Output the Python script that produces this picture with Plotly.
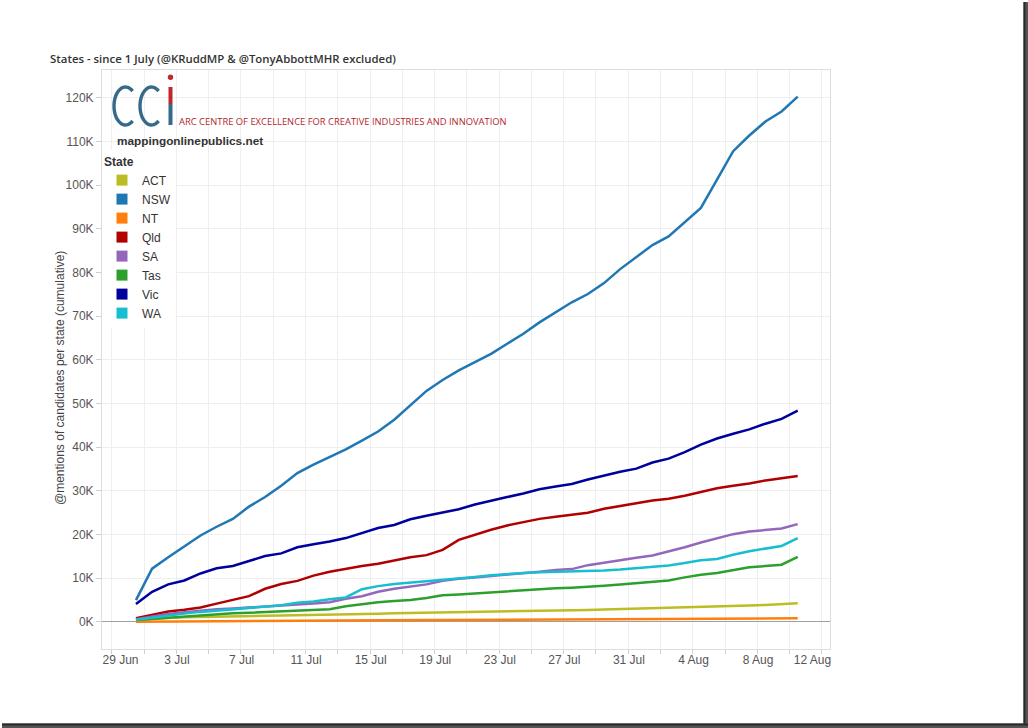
import plotly.graph_objects as go
import pandas as pd
import numpy as np

# ---------------- data (thousands of mentions, cumulative) ----------------
dates = pd.date_range("2013-07-01", periods=42, freq="D")

states = ["ACT", "NSW", "NT", "Qld", "SA", "Tas", "Vic", "WA"]

act = [0.4, 0.7, 0.9, 1.05, 1.15, 1.25, 1.3, 1.35, 1.4, 1.45, 1.5, 1.55, 1.6, 1.7,
       1.8, 1.9, 2.0, 2.05, 2.1, 2.15, 2.2, 2.25, 2.3, 2.35, 2.45, 2.55, 2.65, 2.7,
       2.75, 2.85, 2.95, 3.0, 3.05, 3.1, 3.2, 3.35, 3.5, 3.6, 3.75, 3.9, 4.05, 4.3]
nsw = [5.0, 12.2, 14.8, 17.2, 19.8, 21.8, 23.6, 26.4, 28.6, 31.2, 34.1, 36.0, 37.7, 39.5,
       41.5, 43.6, 46.3, 49.6, 52.9, 55.4, 57.6, 59.5, 61.4, 63.7, 66.0, 68.6, 71.0, 73.2,
       75.1, 77.6, 80.8, 83.6, 86.3, 88.3, 91.6, 94.8, 101.3, 107.8, 111.4, 114.6, 116.9, 120.3]
nt = [0.05, 0.08, 0.1, 0.12, 0.14, 0.16, 0.18, 0.2, 0.22, 0.24, 0.26, 0.28, 0.3, 0.32,
      0.34, 0.36, 0.38, 0.4, 0.42, 0.44, 0.46, 0.48, 0.5, 0.52, 0.54, 0.56, 0.58, 0.6,
      0.62, 0.63, 0.64, 0.66, 0.68, 0.7, 0.71, 0.72, 0.74, 0.76, 0.78, 0.8, 0.82, 0.85]
qld = [0.85, 1.7, 2.4, 2.8, 3.3, 4.2, 5.0, 5.9, 7.6, 8.7, 9.4, 10.6, 11.5, 12.2,
       12.8, 13.3, 14.0, 14.8, 15.3, 16.5, 18.8, 20.0, 21.1, 22.1, 22.9, 23.6, 24.1, 24.6,
       25.0, 25.9, 26.6, 27.2, 27.8, 28.2, 28.9, 29.7, 30.6, 31.2, 31.7, 32.4, 32.9, 33.4]
sa = [0.6, 1.2, 1.8, 2.2, 2.6, 2.9, 3.1, 3.3, 3.5, 3.7, 3.9, 4.2, 4.5, 5.3,
      5.9, 6.9, 7.6, 8.1, 8.6, 9.4, 9.9, 10.2, 10.5, 10.9, 11.2, 11.5, 11.9, 12.1,
      13.0, 13.6, 14.2, 14.7, 15.2, 16.1, 17.1, 18.2, 19.2, 20.1, 20.7, 21.1, 21.4, 22.4]
tas = [0.45, 0.7, 1.0, 1.2, 1.5, 1.8, 2.0, 2.1, 2.25, 2.4, 2.55, 2.7, 2.9, 3.6,
       4.1, 4.5, 4.8, 5.0, 5.5, 6.1, 6.3, 6.55, 6.8, 7.1, 7.35, 7.55, 7.7, 7.85,
       8.0, 8.3, 8.6, 8.85, 9.1, 9.5, 10.2, 10.8, 11.2, 11.9, 12.5, 12.8, 13.1, 14.9]
vic = [4.1, 6.9, 8.6, 9.5, 11.1, 12.3, 12.8, 13.9, 15.1, 15.7, 17.1, 17.8, 18.4, 19.2,
       20.3, 21.5, 22.2, 23.5, 24.3, 25.1, 25.8, 26.9, 27.8, 28.6, 29.4, 30.4, 31.0, 31.6,
       32.6, 33.5, 34.4, 35.1, 36.5, 37.4, 38.9, 40.6, 42.0, 43.1, 44.1, 45.4, 46.5, 48.4]
wa = [0.5, 1.0, 1.5, 1.9, 2.3, 2.6, 2.9, 3.2, 3.5, 3.8, 4.4, 4.7, 5.2, 5.6,
      7.5, 8.2, 8.7, 9.0, 9.3, 9.7, 10.0, 10.3, 10.7, 11.0, 11.2, 11.35, 11.45, 11.5,
      11.7, 11.8, 12.0, 12.3, 12.6, 12.9, 13.5, 14.1, 14.4, 15.4, 16.2, 16.8, 17.4, 19.2]

series = [act, nsw, nt, qld, sa, tas, vic, wa]
colors = ["#bcbd22", "#1f77b4", "#ff7f0e", "#b00000", "#9467bd", "#2ca02c", "#00009c", "#17becf"]

y_ticks = list(range(0, 121, 10))
x_tick_labels = ["29 Jun", "3 Jul", "7 Jul", "11 Jul", "15 Jul", "19 Jul", "23 Jul",
                 "27 Jul", "31 Jul", "4 Aug", "8 Aug", "12 Aug"]

# ---------------- layout helpers (pixel -> paper) ----------------
L, R, T, B = 102, 830, 70, 649
def px(x):
    return (x - L) / (R - L)
def py(y):
    return (B - y) / (B - T)

fig = go.Figure()
for name, vals, col in zip(states, series, colors):
    fig.add_trace(go.Scatter(x=dates, y=vals, mode="lines", name=name, legendgroup=name,
                             showlegend=False, line=dict(color=col, width=2.5),
                             hovertemplate=name + "<br>%{x|%d %b}: %{y:.1f}K<extra></extra>"))
for name, col in zip(states, colors):
    fig.add_trace(go.Scatter(x=[None], y=[None], mode="markers", name=name, legendgroup=name,
                             marker=dict(symbol="square", size=11, color=col)))

# x tick label positions (labels sit around midday of the day)
x_tickvals = [pd.Timestamp("2013-06-30 01:00")] + \
    [pd.Timestamp("2013-07-03 13:00") + pd.Timedelta(days=4 * i) for i in range(10)] + \
    [pd.Timestamp("2013-08-11 22:00")]
minor_vals = list(pd.date_range("2013-06-29 12:00", "2013-08-12 12:00", freq="2D"))

axis_font = dict(family="Liberation Sans, Arial", size=12, color="#555555")

fig.update_layout(
    width=1028, height=728,
    margin=dict(l=L, r=1028 - R, t=T, b=728 - B),
    paper_bgcolor="white", plot_bgcolor="white",
    title=dict(text="States - since 1 July (@KRuddMP & @TonyAbbottMHR excluded)",
               x=50 / 1028, xref="container", xanchor="left",
               y=1 - 59 / 728, yref="container", yanchor="middle",
               font=dict(family="Open Sans", size=11.4, color="#333333", weight=600)),
    showlegend=True,
    legend=dict(x=0.0, y=py(150), xanchor="left", yanchor="top",
                bgcolor="white", borderwidth=0,
                title=dict(text="<b>State</b>", font=dict(family="Liberation Sans, Arial", size=12, color="#333333")),
                font=dict(family="Liberation Sans, Arial", size=12, color="#333333"),
                tracegroupgap=0),
    xaxis=dict(type="date", range=["2013-06-28 21:30", "2013-08-13 00:00"],
               tickmode="array", tickvals=x_tickvals, ticktext=x_tick_labels,
               ticks="", showgrid=False, zeroline=False,
               tickfont=axis_font,
               showline=True, linecolor="#dddddd", mirror=True,
               minor=dict(tickmode="array", tickvals=minor_vals, showgrid=True,
                          gridcolor="#efefef", gridwidth=1, ticks="outside", ticklen=4,
                          tickcolor="#cfcfcf")),
    yaxis=dict(range=[-6.2, 126.4], tickmode="array", tickvals=y_ticks,
               ticktext=[f"{v}K" for v in y_ticks],
               showgrid=True, gridcolor="#efefef", gridwidth=1,
               zeroline=True, zerolinecolor="#a0a0a0", zerolinewidth=1,
               ticks="outside", ticklen=5, tickcolor="#cfcfcf",
               tickfont=axis_font,
               showline=True, linecolor="#dddddd", mirror=True),
)

shapes = []
# white backgrounds behind logo and legend (cover gridlines)
shapes.append(dict(type="rect", xref="paper", yref="paper", x0=px(110), x1=px(510),
                   y0=py(149), y1=py(74), fillcolor="white", line=dict(width=0), layer="between"))
shapes.append(dict(type="rect", xref="paper", yref="paper", x0=px(110), x1=px(223),
                   y0=py(300), y1=py(149), fillcolor="white", line=dict(width=0), layer="between"))

# logo "CC" drawn as arcs
teal = "#36698a"
def c_path(x0, x1, y0, y1):
    cx, cy = (x0 + x1) / 2, (y0 + y1) / 2
    rx, ry = (x1 - x0) / 2, (y1 - y0) / 2
    ang = np.linspace(np.radians(52), np.radians(308), 40)
    pts = [(cx + rx * np.cos(a), cy - ry * np.sin(a)) for a in ang]
    return "M" + " L".join(f"{px(x):.5f},{py(y):.5f}" for x, y in pts)

for (a, b) in [(114, 137), (140, 163)]:
    shapes.append(dict(type="path", xref="paper", yref="paper", path=c_path(a, b, 87, 125),
                       line=dict(color=teal, width=3.4), layer="above"))
# the "i": red upper stroke, teal lower stroke, red dot
shapes.append(dict(type="rect", xref="paper", yref="paper", x0=px(168.5), x1=px(172.5),
                   y0=py(104), y1=py(87), fillcolor="#c1272d", line=dict(width=0)))
shapes.append(dict(type="rect", xref="paper", yref="paper", x0=px(168.5), x1=px(172.5),
                   y0=py(125), y1=py(104), fillcolor=teal, line=dict(width=0)))
shapes.append(dict(type="circle", xref="paper", yref="paper", x0=px(167.8), x1=px(173.2),
                   y0=py(80), y1=py(74.6), fillcolor="#c1272d", line=dict(width=0)))

# page frame shadow (right and bottom)
shapes.append(dict(type="rect", xref="paper", yref="paper", x0=px(1023.5), x1=px(1028),
                   y0=py(728), y1=py(2), fillcolor="#555555", line=dict(width=0)))
shapes.append(dict(type="rect", xref="paper", yref="paper", x0=px(1023.5), x1=px(1025.5),
                   y0=py(728), y1=py(2), fillcolor="#2a2a2a", line=dict(width=0)))
shapes.append(dict(type="rect", xref="paper", yref="paper", x0=px(2), x1=px(1028),
                   y0=py(728), y1=py(723.5), fillcolor="#555555", line=dict(width=0)))
shapes.append(dict(type="rect", xref="paper", yref="paper", x0=px(2), x1=px(1028),
                   y0=py(725.5), y1=py(723.5), fillcolor="#2a2a2a", line=dict(width=0)))
fig.update_layout(shapes=shapes)

fig.add_annotation(text="ARC CENTRE OF EXCELLENCE FOR CREATIVE INDUSTRIES AND INNOVATION",
                   xref="paper", yref="paper", x=px(177), y=py(122), xanchor="left", yanchor="middle",
                   showarrow=False, font=dict(family="Open Sans", size=9.4, color="#b3262d"))
fig.add_annotation(text="<b>mappingonlinepublics.net</b>",
                   xref="paper", yref="paper", x=px(115), y=py(141), xanchor="left", yanchor="middle",
                   showarrow=False, font=dict(family="Liberation Sans, Arial", size=11.8, color="#333333"))
fig.add_annotation(text="@mentions of candidates per state (cumulative)",
                   xref="paper", yref="paper", x=px(60), y=py(378), textangle=-90,
                   xanchor="center", yanchor="middle", showarrow=False,
                   font=dict(family="Liberation Sans, Arial", size=12, color="#444444"))

fig.write_html("out.html")
